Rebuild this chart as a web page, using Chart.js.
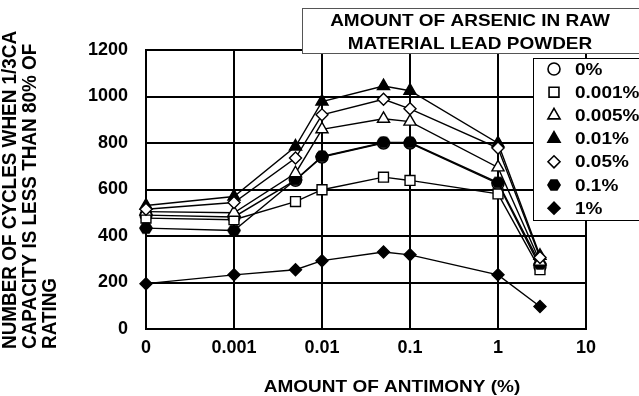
<!DOCTYPE html>
<html>
<head>
<meta charset="utf-8">
<title>Cycle life vs antimony</title>
<script src="https://cdn.jsdelivr.net/npm/chart.js@4/dist/chart.umd.min.js"></script>
<style>
  html, body { margin: 0; padding: 0; background: #fff; }
  #wrap { width: 639px; height: 396px; }
</style>
</head>
<body>
<div id="wrap"><canvas id="cycleChart" width="639" height="396"></canvas></div>
<script>
// Antimony content (%) along x; 0 sits one decade left of 0.001
const antimony = [0, 0.001, 0.005, 0.01, 0.05, 0.1, 1, 3];
const xTickValues = [0.0001, 0.001, 0.01, 0.1, 1, 10];
const xTickLabels = ['0', '0.001', '0.01', '0.1', '1', '10'];

// Arsenic content in raw lead powder (legend)
const arsenicLabels = ['0%', '0.001%', '0.005%', '0.01%', '0.05%', '0.1%', '1%'];

// Cycles until 1/3CA capacity < 80% of rating
const as0 = [490, 482, 640, 740, 800, 800, 625, 268];
const as0001 = [477, 470, 548, 599, 653, 639, 581, 255];
const as0005 = [505, 500, 670, 859, 904, 892, 695, 290];
const as001 = [531, 570, 785, 978, 1045, 1025, 799, 315];
const as005 = [515, 544, 735, 921, 988, 947, 778, 308];
const as01 = [434, 424, 642, 742, 802, 802, 630, 280];
const as1 = [195, 233, 255, 294, 331, 319, 233, 97];

const yTitleLines = ['NUMBER OF CYCLES WHEN 1/3CA', 'CAPACITY IS LESS THAN 80% OF', 'RATING'];
const boxTitleLines = ['AMOUNT OF ARSENIC IN RAW', 'MATERIAL LEAD POWDER'];
const xTitle = 'AMOUNT OF ANTIMONY (%)';

const FONT = '"Liberation Sans", Arial, sans-serif';

// filled hexagon marker for the 0.1% series
function makeHexagon(r) {
  const c = document.createElement('canvas');
  c.width = r * 2 + 2;
  c.height = r * 2 + 2;
  const g = c.getContext('2d');
  g.beginPath();
  for (let i = 0; i < 6; i++) {
    const a = Math.PI / 3 * i;
    const px = r + 1 + r * Math.cos(a);
    const py = r + 1 + r * Math.sin(a) * 0.95;
    if (i === 0) g.moveTo(px, py); else g.lineTo(px, py);
  }
  g.closePath();
  g.fillStyle = '#000';
  g.fill();
  return c;
}
const hexMarker = makeHexagon(7);

function toPoints(values) {
  return antimony.map((x, i) => ({ x: x === 0 ? 0.0001 : x, y: values[i] }));
}

function series(label, values, style, fill, radius, order) {
  return {
    label: label,
    data: toPoints(values),
    borderColor: '#000',
    borderWidth: 1.4,
    pointStyle: style,
    pointRadius: radius,
    pointHoverRadius: radius,
    pointBackgroundColor: fill,
    pointBorderColor: '#000',
    pointBorderWidth: 1.4,
    tension: 0,
    clip: false,
    order: order
  };
}

const datasets = [
  series(arsenicLabels[0], as0, 'circle', '#fff', 6, 9),
  series(arsenicLabels[1], as0001, 'rect', '#fff', 7, 8),
  series(arsenicLabels[2], as0005, 'triangle', '#fff', 7, 6),
  series(arsenicLabels[3], as001, 'triangle', '#000', 7, 5),
  series(arsenicLabels[4], as005, 'rectRot', '#fff', 6, 4),
  series(arsenicLabels[5], as01, hexMarker, '#000', 7, 7),
  series(arsenicLabels[6], as1, 'rectRot', '#000', 6, 3)
];

// draws text squeezed vertically like the scanned original
function squishText(ctx, text, x, y, size) {
  ctx.save();
  ctx.translate(x, y);
  ctx.scale(1, 0.88);
  ctx.font = 'bold ' + size + 'px ' + FONT;
  ctx.fillText(text, 0, 0);
  ctx.restore();
}

const overlayPlugin = {
  id: 'overlay',
  afterDraw(chart) {
    const ctx = chart.ctx;
    ctx.save();
    ctx.fillStyle = '#000';

    // y axis title, rotated, bottom aligned
    ctx.textAlign = 'left';
    ctx.textBaseline = 'middle';
    const yCols = [10, 30, 50];
    yTitleLines.forEach((line, i) => {
      ctx.save();
      ctx.translate(yCols[i], 349);
      ctx.rotate(-Math.PI / 2);
      ctx.scale(0.9, 1);
      ctx.font = 'bold 21px ' + FONT;
      ctx.fillText(line, 0, 0);
      ctx.restore();
    });

    // x axis title
    ctx.textAlign = 'center';
    squishText(ctx, xTitle, 392, 387, 19);

    // title box
    ctx.fillStyle = '#fff';
    ctx.fillRect(302, 8, 345, 45);
    ctx.strokeStyle = '#555';
    ctx.lineWidth = 1;
    ctx.strokeRect(302.5, 8.5, 345, 45);
    ctx.fillStyle = '#000';
    squishText(ctx, boxTitleLines[0], 470, 21, 19);
    squishText(ctx, boxTitleLines[1], 470, 44, 19);

    // legend box
    ctx.fillStyle = '#fff';
    ctx.fillRect(533, 58, 120, 162);
    ctx.strokeStyle = '#000';
    ctx.strokeRect(533.5, 58.5, 120, 162);
    ctx.textAlign = 'left';
    datasets.forEach((ds, i) => {
      const y = 69 + i * 23.2;
      ctx.save();
      ctx.fillStyle = ds.pointBackgroundColor;
      ctx.strokeStyle = '#000';
      ctx.lineWidth = 1.6;
      Chart.helpers.drawPoint(ctx, {
        pointStyle: ds.pointStyle,
        radius: ds.pointRadius,
        borderWidth: 1.6,
        rotation: 0
      }, 554, y);
      ctx.restore();
      ctx.fillStyle = '#000';
      squishText(ctx, ds.label, 575, y + 1, 19);
    });

    ctx.restore();
  }
};

const ctx = document.getElementById('cycleChart');
new Chart(ctx, {
  type: 'line',
  data: { datasets: datasets },
  plugins: [overlayPlugin],
  options: {
    responsive: false,
    animation: false,
    events: [],
    layout: { padding: { top: 50, right: 53, left: 0, bottom: 0 } },
    plugins: {
      legend: { display: false },
      tooltip: { enabled: false }
    },
    scales: {
      x: {
        type: 'logarithmic',
        min: 0.0001,
        max: 10,
        afterBuildTicks: scale => {
          scale.ticks = xTickValues.map(v => ({ value: v }));
        },
        afterFit: scale => { scale.height = 67; },
        grid: { color: '#000', lineWidth: 2, drawTicks: false },
        border: { color: '#000', width: 2 },
        ticks: {
          padding: 8,
          autoSkip: false,
          maxRotation: 0,
          color: '#000',
          font: { family: FONT, size: 18, weight: 'bold' },
          callback: (value, index) => xTickLabels[index]
        }
      },
      y: {
        min: 0,
        max: 1200,
        afterFit: scale => { scale.width = 146; },
        grid: { color: '#000', lineWidth: 2, drawTicks: false },
        border: { color: '#000', width: 2 },
        ticks: {
          stepSize: 200,
          padding: 18,
          color: '#000',
          font: { family: FONT, size: 18, weight: 'bold' },
          callback: value => String(value)
        }
      }
    }
  }
});
</script>
</body>
</html>
